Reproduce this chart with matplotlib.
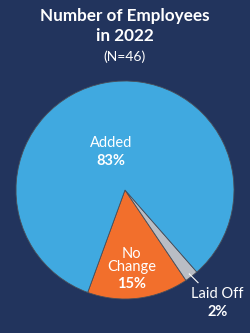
import matplotlib
matplotlib.use("Agg")
import matplotlib.pyplot as plt

categories = ["No Change", "Laid Off", "Added"]
values = [15, 2, 83]
colors = ["#f26f2c", "#b9bdc4", "#40a9e0"]

title_lines = ["Number of Employees", "in 2022"]
subtitle = "(N=46)"

BG = "#22345d"
W, H = 250, 333
fig = plt.figure(figsize=(W / 100, H / 100), dpi=100, facecolor=BG)

cx, cy, r = 125, 190, 109
ax = fig.add_axes([(cx - r) / W, (H - cy - r) / H, 2 * r / W, 2 * r / H])
ax.set_facecolor(BG)
ax.pie(values, colors=colors, startangle=-110, counterclock=True, radius=1,
       wedgeprops=dict(edgecolor="#4a4f5a", linewidth=0.6))
ax.set_xlim(-1, 1)
ax.set_ylim(-1, 1)
ax.set_aspect("auto")
ax.axis("off")

font = "Lato"
fig.text(0.5, 1 - 16 / H, title_lines[0], ha="center", va="center", color="white",
         fontsize=12.3, fontweight="bold", family=font)
fig.text(0.5, 1 - 36 / H, title_lines[1], ha="center", va="center", color="white",
         fontsize=12.3, fontweight="bold", family=font)
fig.text(0.5, 1 - 57 / H, subtitle, ha="center", va="center", color="white",
         fontsize=10, family=font)

fs = 10.5
ax.text(-0.13, 0.43, "Added", ha="center", va="center", color="white", fontsize=fs, family=font)
ax.text(-0.13, 0.27, f"{values[2]}%", ha="center", va="center", color="white", fontsize=fs,
        fontweight="bold", family=font)
ax.text(0.06, -0.585, "No", ha="center", va="center", color="white", fontsize=fs, family=font)
ax.text(0.06, -0.71, "Change", ha="center", va="center", color="white", fontsize=fs, family=font)
ax.text(0.06, -0.86, f"{values[0]}%", ha="center", va="center", color="white", fontsize=fs,
        fontweight="bold", family=font)
ax.text(0.85, -0.95, "Laid Off", ha="center", va="center", color="white", fontsize=fs,
        family=font, clip_on=False)
ax.text(0.85, -1.12, f"{values[1]}%", ha="center", va="center", color="white", fontsize=fs,
        fontweight="bold", family=font, clip_on=False)
ax.plot([0.59, 0.67], [-0.77, -0.85], color="white", lw=0.8, clip_on=False)

fig.savefig("out.png", dpi=100, facecolor=BG)
